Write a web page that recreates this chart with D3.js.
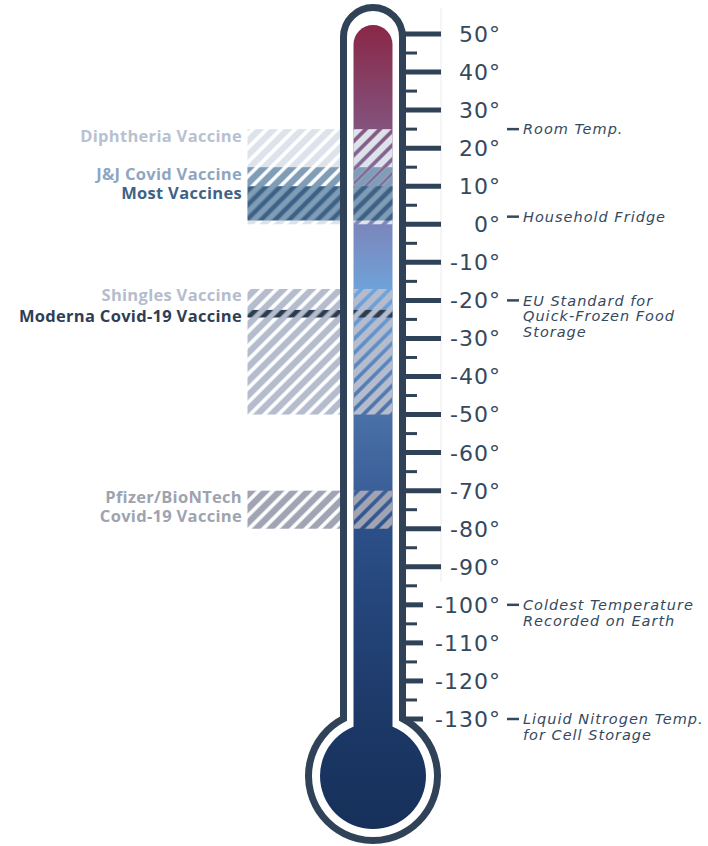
<!DOCTYPE html>
<html>
<head>
<meta charset="utf-8">
<script src="https://cdn.jsdelivr.net/npm/d3@7"></script>
<style>
  body { margin: 0; background: #fff; }
  svg { display: block; }
</style>
</head>
<body>
<svg id="chart" width="708" height="846"></svg>
<script>
// scale values (degrees C)
const majorTicks = [50, 40, 30, 20, 10, 0, -10, -20, -30, -40, -50, -60, -70, -80, -90, -100, -110, -120, -130];
const minorTicks = [45, 35, 25, 15, 5, -5, -15, -25, -35, -45, -55, -65, -75, -85, -95, -105, -115, -125];

// vaccine storage bands
const bandNames = ["Diphtheria Vaccine", "J&J Covid Vaccine", "Most Vaccines", "Shingles Vaccine", "Moderna Covid-19 Vaccine", "Pfizer/BioNTech\nCovid-19 Vaccine"];
const bandHigh = [25, 15, 10, -17, -22.5, -70];
const bandLow = [0, 1, 1, -50, -24.5, -80];

// reference notes on the right
const noteValues = [25, 2, -20, -100, -130];
const noteTexts = [
  ["Room Temp."],
  ["Household Fridge"],
  ["EU Standard for", "Quick-Frozen Food", "Storage"],
  ["Coldest Temperature", "Recorded on Earth"],
  ["Liquid Nitrogen Temp.", "for Cell Storage"]
];

// styles
const bandStyle = [
  { kind: "fill", color: "#dde2eb", label: "#b8c1d1" },
  { kind: "fill", color: "#7f9db7", label: "#8ea6bf" },
  { kind: "stripe", color: "#3d6285", label: "#3f6386" },
  { kind: "fill", color: "#b4bccd", label: "#b5bdcd" },
  { kind: "stripe", color: "#2c3d52", label: "#2e3e54" },
  { kind: "fill", color: "#a0a4b3", label: "#9ea3b0" }
];
const dark = "#2f4258";
const textCol = "#34495e";

const svg = d3.select('#chart');
const y = d3.scaleLinear().domain([50, -130]).range([34, 719]);

const cx = 373;
const bulbY = 776;

const defs = svg.append('defs');
const grad = defs.append('linearGradient')
    .attr('id', 'liquid')
    .attr('gradientUnits', 'userSpaceOnUse')
    .attr('x1', 0).attr('x2', 0).attr('y1', 25).attr('y2', 829);
[
  [25, "#8a2747"], [y(25), "#83537d"], [y(0), "#7b86bb"], [y(-18), "#6ea3db"],
  [y(-50), "#4a70a8"], [y(-70), "#3b5f98"], [y(-80), "#2b4f88"], [y(-130), "#1c3867"], [829, "#16305a"]
].forEach(s => {
  grad.append('stop').attr('offset', (s[0] - 25) / (829 - 25)).attr('stop-color', s[1]);
});

// hatch patterns, gap centred on x = 0
const P = 10, gap = 3.6;
bandStyle.forEach((st, i) => {
  const p = defs.append('pattern')
      .attr('id', 'hatch' + i)
      .attr('patternUnits', 'userSpaceOnUse')
      .attr('width', P).attr('height', P)
      .attr('patternTransform', 'rotate(45)');
  if (st.kind === "fill") {
    p.append('rect').attr('x', gap / 2).attr('y', 0).attr('width', P - gap).attr('height', P).attr('fill', st.color);
  } else {
    const w = 2.4;
    p.append('rect').attr('x', 0).attr('y', 0).attr('width', w).attr('height', P).attr('fill', st.color);
    p.append('rect').attr('x', P - w).attr('y', 0).attr('width', w).attr('height', P).attr('fill', st.color);
  }
});

// liquid
const liquid = svg.append('g').attr('fill', 'url(#liquid)');
liquid.append('rect')
    .attr('x', 353.5).attr('y', 25)
    .attr('width', 39).attr('height', bulbY - 25)
    .attr('rx', 19.5);
liquid.append('circle').attr('cx', cx).attr('cy', bulbY).attr('r', 53);

// bands (left of the tube and over the liquid)
const bands = svg.append('g');
bandNames.forEach((name, i) => {
  const top = y(bandHigh[i]), h = y(bandLow[i]) - y(bandHigh[i]);
  [[247.5, 346], [353.5, 392.5]].forEach(r => {
    bands.append('rect')
        .attr('x', r[0]).attr('y', top)
        .attr('width', r[1] - r[0]).attr('height', h)
        .attr('fill', 'url(#hatch' + i + ')');
  });
});

// band labels
const labels = svg.append('g')
    .attr('font-family', '"Open Sans", sans-serif')
    .attr('font-weight', 700)
    .attr('font-size', 16.5)
    .attr('letter-spacing', 0.3)
    .attr('text-anchor', 'end');
bandNames.forEach((name, i) => {
  const t = labels.append('text')
      .attr('x', 242)
      .attr('y', y(bandHigh[i]) + 12.5)
      .attr('fill', bandStyle[i].label);
  name.split('\n').forEach((line, j) => {
    t.append('tspan').attr('x', 242).attr('dy', j ? 18.5 : 0).text(line);
  });
});

// outline
const hw = 29.5, R = 64.5;
const joinY = bulbY - Math.sqrt(R * R - hw * hw);
svg.append('path')
    .attr('d', `M${cx - hw},${joinY} L${cx - hw},${37} A${hw},${hw} 0 0 1 ${cx + hw},${37}
      L${cx + hw},${joinY} A${R},${R} 0 1 1 ${cx - hw},${joinY} Z`)
    .attr('fill', 'none')
    .attr('stroke', dark)
    .attr('stroke-width', 7);

// faint guide line
svg.append('line')
    .attr('x1', 441).attr('x2', 441).attr('y1', 8).attr('y2', 582)
    .attr('stroke', '#ececec').attr('stroke-width', 1);

// ticks
const ticks = svg.append('g').attr('stroke', dark);
majorTicks.forEach(t => {
  ticks.append('line')
      .attr('x1', cx + hw).attr('x2', t <= -100 ? 423 : 441)
      .attr('y1', y(t)).attr('y2', y(t))
      .attr('stroke-width', 5);
});
minorTicks.forEach(t => {
  ticks.append('line')
      .attr('x1', cx + hw).attr('x2', 417)
      .attr('y1', y(t)).attr('y2', y(t))
      .attr('stroke-width', 3);
});

svg.append('g')
    .attr('font-family', '"DejaVu Sans", sans-serif')
    .attr('font-size', 22)
    .attr('letter-spacing', 1)
    .attr('text-anchor', 'end')
    .attr('fill', textCol)
  .selectAll('text')
  .data(majorTicks)
  .enter()
  .append('text')
    .attr('x', 501)
    .attr('y', d => y(d))
    .attr('dy', '0.36em')
    .text(d => d + '°');

// notes
const notes = svg.append('g');
noteValues.forEach((v, i) => {
  notes.append('line')
      .attr('x1', 507).attr('x2', 519)
      .attr('y1', y(v)).attr('y2', y(v))
      .attr('stroke', textCol).attr('stroke-width', 2.5);
  const t = notes.append('text')
      .attr('x', 523).attr('y', y(v))
      .attr('font-family', '"DejaVu Sans", sans-serif')
      .attr('font-style', 'italic')
      .attr('font-size', 14.5)
      .attr('letter-spacing', 1)
      .attr('fill', textCol);
  noteTexts[i].forEach((line, j) => {
    t.append('tspan').attr('x', 523).attr('dy', j ? 15.5 : '0.36em').text(line);
  });
});
</script>
</body>
</html>
